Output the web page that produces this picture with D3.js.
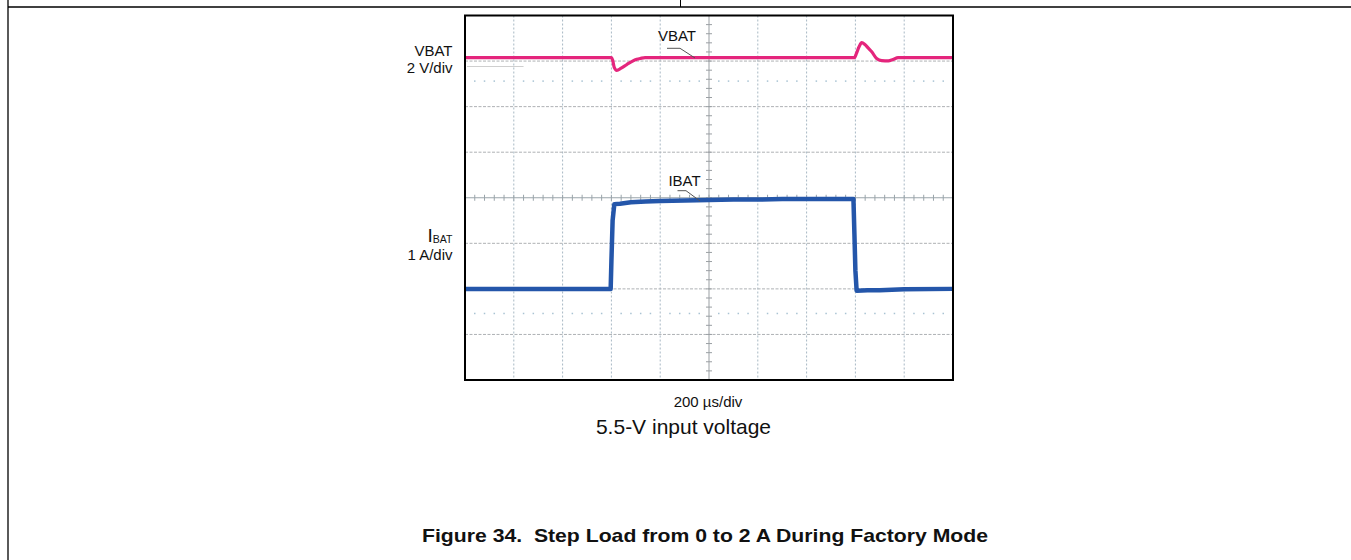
<!DOCTYPE html>
<html>
<head>
<meta charset="utf-8">
<script src="https://cdn.jsdelivr.net/npm/d3@7"></script>
<style>
  html, body { margin: 0; padding: 0; background: #fff; }
  svg { display: block; font-family: Arial, "Liberation Sans", Helvetica, sans-serif; }
  .pre { white-space: pre; }
</style>
</head>
<body>
<svg id="chart" width="1351" height="560"></svg>
<script>
// ---------- data (read from the scope capture) ----------
// time in microseconds (200 us/div, 10 divisions)
const timeDomain = [0, 2000];
const timeTicks = [200, 400, 600, 800, 1000, 1200, 1400, 1600, 1800];
const divTicks = [-3, -2, -1, 0, 1, 2, 3];

// VBAT trace (V), 2 V/div
const vbatTime = [0, 600, 605, 612, 622, 640, 663, 685, 704, 720, 738, 1000, 1200, 1596, 1604, 1615, 1626, 1639, 1653, 1667, 1687, 1708, 1735, 1754, 1775, 2000];
const vbatVolt = [3.80, 3.80, 3.70, 3.36, 3.24, 3.34, 3.50, 3.64, 3.73, 3.77, 3.80, 3.80, 3.80, 3.80, 3.98, 4.28, 4.46, 4.38, 4.22, 4.06, 3.76, 3.67, 3.66, 3.72, 3.80, 3.80];

// IBAT trace (A), 1 A/div
const ibatTime = [0, 597, 600, 605, 612, 635, 680, 740, 800, 900, 1000, 1100, 1200, 1300, 1400, 1500, 1592, 1596, 1600, 1605, 1650, 1700, 1800, 2000];
const ibatAmp  = [0.00, 0.00, 0.60, 1.50, 1.86, 1.87, 1.90, 1.92, 1.93, 1.94, 1.95, 1.96, 1.96, 1.97, 1.97, 1.97, 1.97, 1.20, 0.40, -0.04, -0.03, -0.03, -0.01, 0.00];

// channel settings
const vbatPerDiv = 2;      // V/div
const ibatPerDiv = 1;      // A/div
const vbatZeroDiv = 1.174; // screen division where 0 V sits
const ibatZeroDiv = -2;    // screen division where 0 A sits
const markerRows = [2.56, -2.54];

// ---------- layout ----------
const svg = d3.select("#chart");
const box = { left: 465, right: 953, top: 15.5, bottom: 380 };

const x = d3.scaleLinear().domain(timeDomain).range([box.left, box.right]);
const yDiv = d3.scaleLinear().domain([-4, 4]).range([box.bottom, box.top]);
const yV = d3.scaleLinear().domain([0, vbatPerDiv]).range([yDiv(vbatZeroDiv), yDiv(vbatZeroDiv + 1)]);
const yI = d3.scaleLinear().domain([0, ibatPerDiv]).range([yDiv(ibatZeroDiv), yDiv(ibatZeroDiv + 1)]);

// page frame lines
svg.append("line").attr("x1", 8).attr("x2", 1351).attr("y1", 7).attr("y2", 7)
  .attr("stroke", "#000").attr("stroke-width", 1.3);
svg.append("line").attr("x1", 8).attr("x2", 8).attr("y1", 0).attr("y2", 560)
  .attr("stroke", "#000").attr("stroke-width", 1.3);
svg.append("line").attr("x1", 680.5).attr("x2", 680.5).attr("y1", 0).attr("y2", 7)
  .attr("stroke", "#000").attr("stroke-width", 1);

// scope background
svg.append("rect").attr("x", box.left).attr("y", box.top)
  .attr("width", box.right - box.left).attr("height", box.bottom - box.top)
  .attr("fill", "#fff");

const grid = svg.append("g");
// vertical grid lines
grid.selectAll("line.v").data(timeTicks.filter(t => t !== 1000)).join("line")
  .attr("x1", d => x(d)).attr("x2", d => x(d))
  .attr("y1", box.top).attr("y2", box.bottom)
  .attr("stroke", "#a7b8c4").attr("stroke-width", 1).attr("stroke-dasharray", "2,2");
// horizontal grid lines
grid.selectAll("line.h").data(divTicks.filter(d => d !== 0)).join("line")
  .attr("x1", box.left).attr("x2", box.right)
  .attr("y1", d => yDiv(d)).attr("y2", d => yDiv(d))
  .attr("stroke", "#aeb1b4").attr("stroke-width", 1).attr("stroke-dasharray", "3,1.5");
// sparse dotted marker rows
const dotXs = d3.range(0, 2000, 40).filter(t => t % 200 !== 0);
markerRows.forEach(r => {
  grid.selectAll(null).data(dotXs).join("rect")
    .attr("x", d => x(d) - 0.75).attr("y", yDiv(r) - 0.75)
    .attr("width", 1.5).attr("height", 1.5).attr("fill", "#a9c3d3");
});
// faint reference line on the left under VBAT
grid.append("line").attr("x1", x(0) + 2).attr("x2", x(240))
  .attr("y1", yDiv(2.88)).attr("y2", yDiv(2.88))
  .attr("stroke", "#cfcfcf").attr("stroke-width", 1);

// center crosshair with minor ticks
grid.append("line").attr("x1", x(1000)).attr("x2", x(1000))
  .attr("y1", box.top).attr("y2", box.bottom).attr("stroke", "#9a9fa3").attr("stroke-width", 1);
grid.append("line").attr("x1", box.left).attr("x2", box.right)
  .attr("y1", yDiv(0)).attr("y2", yDiv(0)).attr("stroke", "#9aa4aa").attr("stroke-width", 1);
const minorT = d3.range(0, 2001, 40);
grid.selectAll(null).data(minorT).join("line")
  .attr("x1", d => x(d)).attr("x2", d => x(d))
  .attr("y1", yDiv(0) - 3).attr("y2", yDiv(0) + 3)
  .attr("stroke", "#9aa4aa").attr("stroke-width", 1);
const minorD = d3.range(-4, 4.01, 0.2);
grid.selectAll(null).data(minorD).join("line")
  .attr("x1", x(1000) - 3).attr("x2", x(1000) + 3)
  .attr("y1", d => yDiv(d)).attr("y2", d => yDiv(d))
  .attr("stroke", "#9a9fa3").attr("stroke-width", 1);

// traces
const vData = vbatTime.map((t, i) => [t, vbatVolt[i]]);
const iData = ibatTime.map((t, i) => [t, ibatAmp[i]]);
svg.append("path").datum(iData)
  .attr("d", d3.line().x(d => x(d[0])).y(d => yI(d[1])))
  .attr("fill", "none").attr("stroke", "#2456aa").attr("stroke-width", 4.5)
  .attr("stroke-linejoin", "round");
svg.append("path").datum(vData)
  .attr("d", d3.line().x(d => x(d[0])).y(d => yV(d[1])).curve(d3.curveMonotoneX))
  .attr("fill", "none").attr("stroke", "#e4257c").attr("stroke-width", 3.2)
  .attr("stroke-linejoin", "round");

// scope border
svg.append("rect").attr("x", box.left).attr("y", box.top)
  .attr("width", box.right - box.left).attr("height", box.bottom - box.top)
  .attr("fill", "none").attr("stroke", "#000").attr("stroke-width", 2);

// in-plot annotations
function label(txt, cx, base, size, anchor) {
  return svg.append("text").attr("x", cx).attr("y", base)
    .attr("text-anchor", anchor || "middle").attr("font-size", size).attr("fill", "#111").text(txt);
}
label("VBAT", 677, 40.5, 15);
svg.append("polyline").attr("points", "667,48.3 680,48.3 695,58")
  .attr("fill", "none").attr("stroke", "#555").attr("stroke-width", 1);
label("IBAT", 684.5, 185.7, 15);
svg.append("polyline").attr("points", "677.5,190.7 686,190.7 700,201")
  .attr("fill", "none").attr("stroke", "#555").attr("stroke-width", 1);

// channel labels
label("VBAT", 452.5, 55.7, 15, "end");
label("2 V/div", 452.5, 73.3, 15, "end");
const ib = svg.append("text").attr("x", 452.5).attr("y", 241.7).attr("text-anchor", "end")
  .attr("fill", "#111");
ib.append("tspan").attr("font-size", 19).text("I");
ib.append("tspan").attr("font-size", 10.5).attr("dy", 1).text("BAT");
label("1 A/div", 452.5, 260, 15, "end");

// time scale and caption
label("200 µs/div", 708, 406.7, 15);
label("5.5-V input voltage", 683.5, 434, 21);

// figure title
svg.append("text").attr("class", "pre").attr("x", 422).attr("y", 541.7)
  .attr("xml:space", "preserve")
  .attr("font-size", 18.6).attr("font-weight", "bold").attr("fill", "#111")
  .attr("textLength", 566).attr("lengthAdjust", "spacingAndGlyphs")
  .text("Figure 34.  Step Load from 0 to 2 A During Factory Mode");
</script>
</body>
</html>
